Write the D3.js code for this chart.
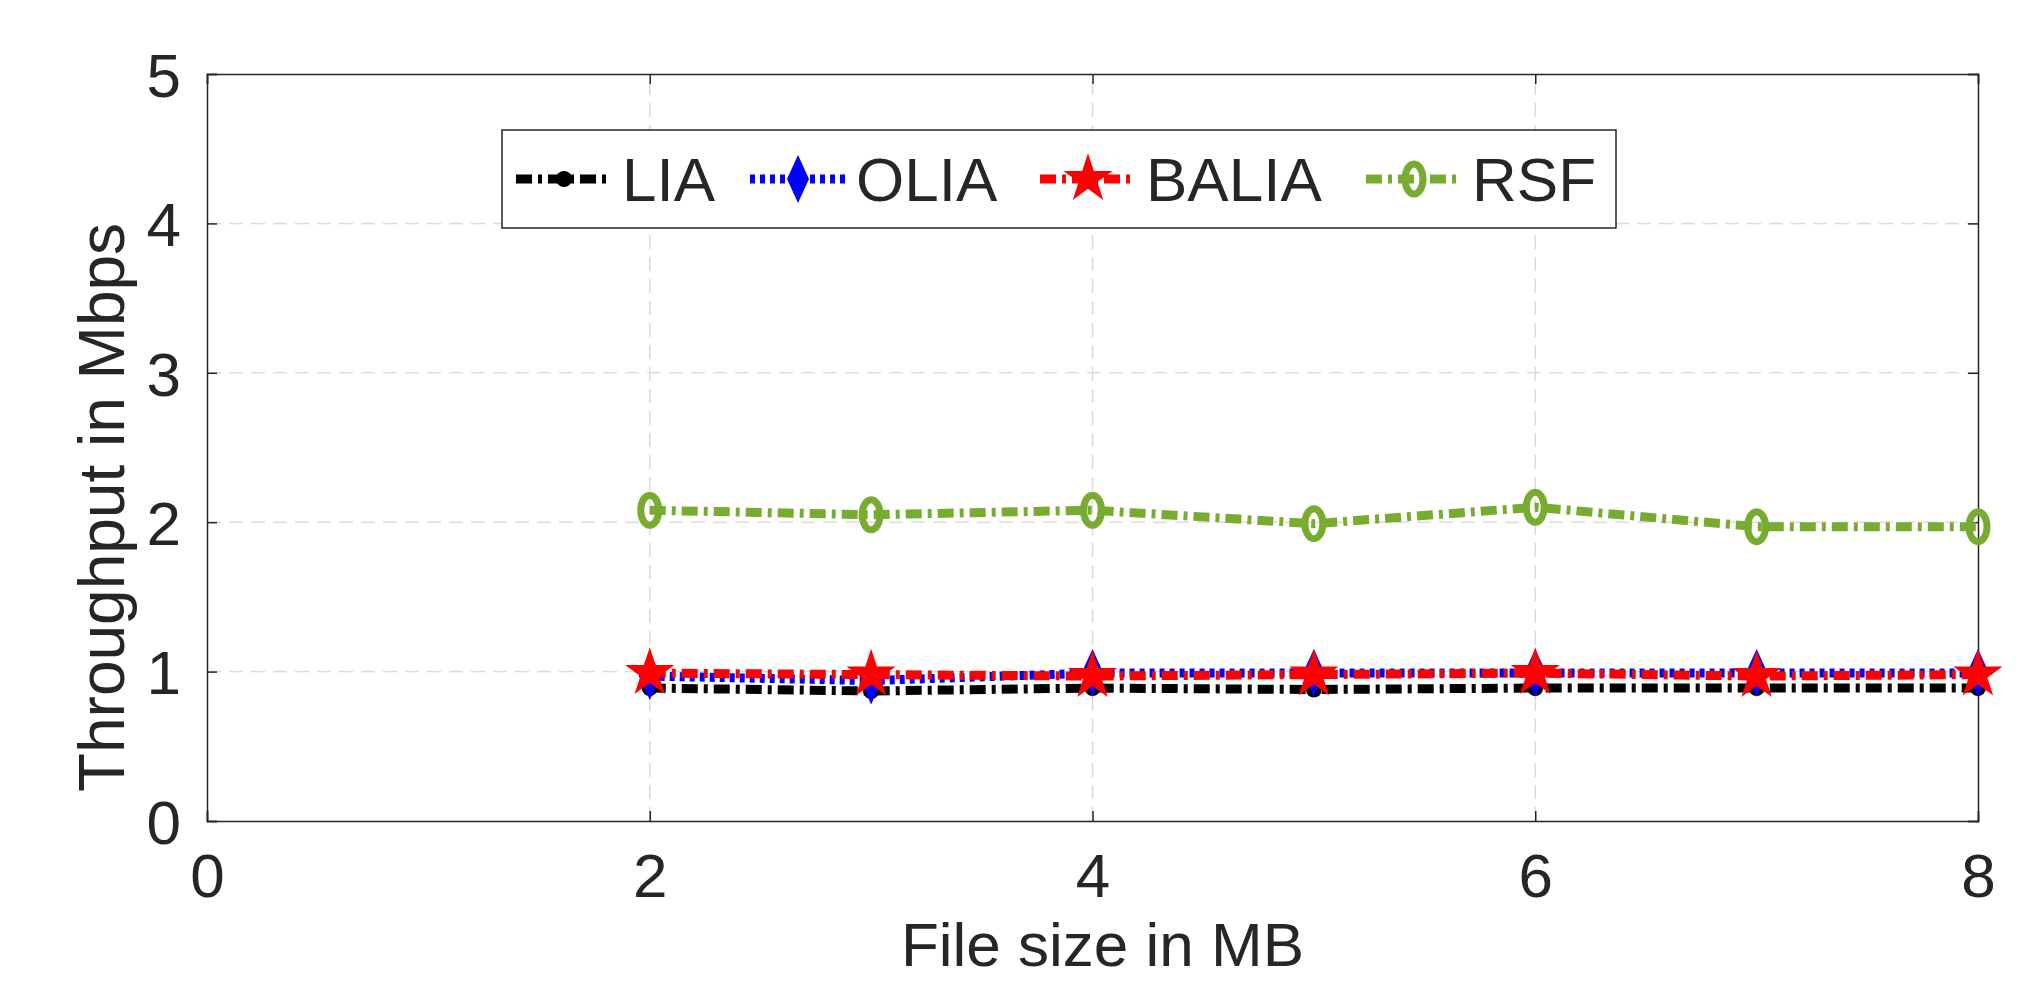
<!DOCTYPE html>
<html><head><meta charset="utf-8">
<script src="https://cdn.jsdelivr.net/npm/d3@7"></script>
<style>body{margin:0;background:#fff;} text{font-family:"Liberation Sans",Arial,sans-serif;fill:#262626;}</style>
</head><body><div id="chart"></div>
<script>
const fileSizes = [2, 3, 4, 5, 6, 7, 8];
const lia = [0.89, 0.87, 0.89, 0.88, 0.89, 0.89, 0.89];
const olia = [0.97, 0.94, 0.99, 0.99, 0.99, 0.99, 0.99];
const balia = [0.99, 0.98, 0.97, 0.98, 0.99, 0.97, 0.98];
const rsf = [2.08, 2.05, 2.08, 1.99, 2.10, 1.97, 1.97];
const xTicks = [0, 2, 4, 6, 8];
const yTicks = [0, 1, 2, 3, 4, 5];

const series = [
    {name: 'LIA', vals: lia, color: '#000', dash: '16,6,4,6', marker: 'circle'},
    {name: 'OLIA', vals: olia, color: '#0000ff', dash: '5,5', marker: 'diamond'},
    {name: 'BALIA', vals: balia, color: '#ff0000', dash: '16,6,4,6', marker: 'star'},
    {name: 'RSF', vals: rsf, color: '#77ac30', dash: '16,6,4,6', marker: 'ring'}
];

const W = 2033, H = 990;
const m = {left: 207, right: 2033 - 1978, top: 74, bottom: 990 - 821};
const svg = d3.select('#chart').append('svg').attr('width', W).attr('height', H);

const x = d3.scaleLinear().domain([0, 8]).range([m.left, W - m.right]);
const y = d3.scaleLinear().domain([0, 5]).range([H - m.bottom, m.top]);

// grid
svg.selectAll('.gx').data(xTicks.slice(1, -1)).enter().append('line')
    .attr('x1', d => x(d)).attr('x2', d => x(d)).attr('y1', y(0)).attr('y2', y(5))
    .attr('stroke', '#dcdcdc').attr('stroke-width', 1.5).attr('stroke-dasharray', '14,8');
svg.selectAll('.gy').data(yTicks.slice(1, -1)).enter().append('line')
    .attr('y1', d => y(d)).attr('y2', d => y(d)).attr('x1', x(0)).attr('x2', x(8))
    .attr('stroke', '#dcdcdc').attr('stroke-width', 1.5).attr('stroke-dasharray', '14,8');

const xAxis = svg.append('g').attr('transform', `translate(0,${y(0)})`)
    .call(d3.axisBottom(x).tickValues(xTicks).tickSize(-10).tickPadding(26).tickFormat(d3.format('d')));
const xTop = svg.append('g').attr('transform', `translate(0,${y(5)})`)
    .call(d3.axisTop(x).tickValues(xTicks).tickSize(-10).tickFormat(''));
const yAxis = svg.append('g').attr('transform', `translate(${x(0)},0)`)
    .call(d3.axisLeft(y).tickValues(yTicks).tickSize(-10).tickPadding(26).tickFormat(d3.format('d')));
const yRight = svg.append('g').attr('transform', `translate(${x(8)},0)`)
    .call(d3.axisRight(y).tickValues(yTicks).tickSize(-10).tickFormat(''));
[xAxis, xTop, yAxis, yRight].forEach(g => {
    g.selectAll('path,line').attr('stroke', '#262626').attr('stroke-width', 1.5);
    g.selectAll('text').style('font-size', '62px').attr('fill', '#262626');
});
xAxis.selectAll('text').attr('dy', '0.8em');
yAxis.selectAll('text').attr('dy', '0.36em');

svg.append('text').attr('x', (x(0) + x(8)) / 2 + 10).attr('y', 966).attr('text-anchor', 'middle')
    .style('font-size', '62px').text('File size in MB');
svg.append('text').attr('transform', `translate(124,${(y(0) + y(5)) / 2 + 60}) rotate(-90)`)
    .attr('text-anchor', 'middle').style('font-size', '64px').text('Throughput in Mbps');

const starPath = d3.symbol(d3.symbolStar, 750)();
function drawMarker(g, s) {
    if (s.marker === 'circle') g.append('circle').attr('r', 8).attr('fill', s.color);
    else if (s.marker === 'diamond') g.append('path').attr('d', 'M0,-24L11,0L0,24L-11,0Z').attr('fill', s.color);
    else if (s.marker === 'star') g.append('path').attr('d', starPath).attr('fill', s.color);
    else g.append('ellipse').attr('rx', 9).attr('ry', 15).attr('fill', 'none').attr('stroke', s.color).attr('stroke-width', 7);
}

const line = d3.line().x((d, i) => x(fileSizes[i])).y(d => y(d));
series.forEach(s => {
    svg.append('path').attr('d', line(s.vals)).attr('fill', 'none')
        .attr('stroke', s.color).attr('stroke-width', 9).attr('stroke-dasharray', s.dash);
    s.vals.forEach((v, i) => {
        const g = svg.append('g').attr('transform', `translate(${x(fileSizes[i])},${y(v)})`);
        drawMarker(g, s);
    });
});

// legend
const lg = svg.append('g').attr('transform', 'translate(502,130)');
lg.append('rect').attr('width', 1114).attr('height', 98).attr('fill', '#fff').attr('stroke', '#262626').attr('stroke-width', 1.5);
const lx = [14, 248, 538, 864];
series.forEach((s, i) => {
    const g = lg.append('g').attr('transform', `translate(${lx[i]},49)`);
    g.append('line').attr('x1', 0).attr('x2', 95).attr('stroke', s.color).attr('stroke-width', 9).attr('stroke-dasharray', s.dash);
    drawMarker(g.append('g').attr('transform', 'translate(48,0)'), s);
    g.append('text').attr('x', 106).attr('y', 22).style('font-size', '62px').text(s.name);
});
</script></body></html>
